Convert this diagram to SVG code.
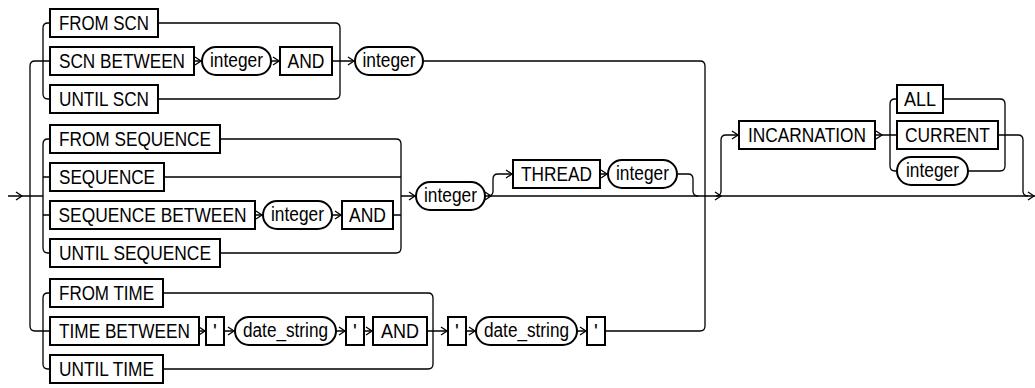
<svg xmlns="http://www.w3.org/2000/svg" xmlns:xlink="http://www.w3.org/1999/xlink" width="1035" height="388" viewBox="0 0 1035 388">
<style>
.b{fill:#fff;stroke:#000;stroke-width:2}
.c{fill:none;stroke:#000;stroke-width:1.3}
.t{font-family:"Liberation Sans",Arial,Helvetica,sans-serif;font-size:20px;fill:#000;text-anchor:middle}
</style>
<defs>
<path id="ah" d="M-6,-4 L0,0 L-6,4" fill="none" stroke="#000" stroke-width="1.3"/>
</defs>
<rect width="1035" height="388" fill="#fff"/>
<g id="connectors" class="c">
<path d="M8,196 H43"/>
<path d="M50,61 H35 Q30,61 30,66 V326 Q30,331 35,331 H50"/>
<path d="M50,23 H48 Q43,23 43,28 V94 Q43,99 48,99 H50"/>
<path d="M50,139 H48 Q43,139 43,144 V248 Q43,253 48,253 H50 M43,177 H50 M43,215 H50"/>
<path d="M50,293 H48 Q43,293 43,298 V364 Q43,369 48,369 H50"/>
<path d="M158,23 H335 Q340,23 340,28 V94 Q340,99 335,99 H158"/>
<path d="M194,61 H202 M271,61 H280 M332,61 H355 M423,61 H700 Q705,61 705,66 V326 Q705,331 700,331 H605"/>
<path d="M220,139 H396 Q401,139 401,144 V248 Q401,253 396,253 H220 M164,177 H401 M255,215 H263 M332,215 H342 M393,215 H401 M401,196 H416"/>
<path d="M485,196 H1035"/>
<path d="M488,196 Q493,196 493,191 V179 Q493,174 498,174 H513 M600,174 H608 M677,174 H688 Q693,174 693,179 V191 Q693,196 698,196"/>
<path d="M716,196 Q721,196 721,191 V140 Q721,135 726,135 H739 M875,135 H897"/>
<path d="M897,99 H895 Q890,99 890,104 V166 Q890,171 895,171 H897"/>
<path d="M943,99 H1000 Q1005,99 1005,104 V166 Q1005,171 1000,171 H968 M998,135 H1018 Q1023,135 1023,140 V191 Q1023,196 1028,196"/>
<path d="M199,331 H206 M224,331 H235 M336,331 H346 M364,331 H373 M427,331 H448 M466,331 H476 M577,331 H587"/>
<path d="M163,293 H428 Q433,293 433,298 V364 Q433,369 428,369 H163"/>
<use xlink:href="#ah" x="22" y="196"/>
<use xlink:href="#ah" x="201" y="61"/>
<use xlink:href="#ah" x="279" y="61"/>
<use xlink:href="#ah" x="354" y="61"/>
<use xlink:href="#ah" x="262" y="215"/>
<use xlink:href="#ah" x="341" y="215"/>
<use xlink:href="#ah" x="415" y="196"/>
<use xlink:href="#ah" x="491" y="196"/>
<use xlink:href="#ah" x="512" y="174"/>
<use xlink:href="#ah" x="607" y="174"/>
<use xlink:href="#ah" x="721" y="196"/>
<use xlink:href="#ah" x="738" y="135"/>
<use xlink:href="#ah" x="882" y="135"/>
<use xlink:href="#ah" x="1034" y="196"/>
<use xlink:href="#ah" x="205" y="331"/>
<use xlink:href="#ah" x="234" y="331"/>
<use xlink:href="#ah" x="345" y="331"/>
<use xlink:href="#ah" x="372" y="331"/>
<use xlink:href="#ah" x="447" y="331"/>
<use xlink:href="#ah" x="475" y="331"/>
<use xlink:href="#ah" x="586" y="331"/>
</g>
<g id="from_scn"><rect class="b" x="50" y="9" width="108" height="28"/><text class="t" x="104" y="30" textLength="90" lengthAdjust="spacingAndGlyphs">FROM SCN</text></g>
<g id="scn_between"><rect class="b" x="50" y="47" width="144" height="28"/><text class="t" x="122" y="68" textLength="126" lengthAdjust="spacingAndGlyphs">SCN BETWEEN</text></g>
<g id="scn_int1"><rect class="b" x="202" y="47" width="69" height="28" rx="14"/><text class="t" x="236.5" y="67" textLength="53" lengthAdjust="spacingAndGlyphs">integer</text></g>
<g id="scn_and"><rect class="b" x="280" y="47" width="52" height="28"/><text class="t" x="306" y="68" textLength="37" lengthAdjust="spacingAndGlyphs">AND</text></g>
<g id="scn_int2"><rect class="b" x="355" y="47" width="68" height="28" rx="14"/><text class="t" x="389" y="67" textLength="53" lengthAdjust="spacingAndGlyphs">integer</text></g>
<g id="until_scn"><rect class="b" x="50" y="85" width="108" height="28"/><text class="t" x="104" y="106" textLength="90" lengthAdjust="spacingAndGlyphs">UNTIL SCN</text></g>
<g id="from_sequence"><rect class="b" x="50" y="125" width="170" height="28"/><text class="t" x="135" y="146" textLength="152" lengthAdjust="spacingAndGlyphs">FROM SEQUENCE</text></g>
<g id="sequence"><rect class="b" x="50" y="163" width="114" height="28"/><text class="t" x="107" y="184" textLength="96" lengthAdjust="spacingAndGlyphs">SEQUENCE</text></g>
<g id="sequence_between"><rect class="b" x="50" y="201" width="205" height="28"/><text class="t" x="152.5" y="222" textLength="188" lengthAdjust="spacingAndGlyphs">SEQUENCE BETWEEN</text></g>
<g id="seq_int"><rect class="b" x="263" y="201" width="69" height="28" rx="14"/><text class="t" x="297.5" y="221" textLength="53" lengthAdjust="spacingAndGlyphs">integer</text></g>
<g id="seq_and"><rect class="b" x="342" y="201" width="51" height="28"/><text class="t" x="367.5" y="222" textLength="37" lengthAdjust="spacingAndGlyphs">AND</text></g>
<g id="until_sequence"><rect class="b" x="50" y="239" width="170" height="28"/><text class="t" x="135" y="260" textLength="152" lengthAdjust="spacingAndGlyphs">UNTIL SEQUENCE</text></g>
<g id="seq_int2"><rect class="b" x="416" y="182" width="69" height="28" rx="14"/><text class="t" x="450.5" y="202" textLength="53" lengthAdjust="spacingAndGlyphs">integer</text></g>
<g id="thread"><rect class="b" x="513" y="160" width="87" height="28"/><text class="t" x="556.5" y="181" textLength="71" lengthAdjust="spacingAndGlyphs">THREAD</text></g>
<g id="thread_int"><rect class="b" x="608" y="160" width="69" height="28" rx="14"/><text class="t" x="642.5" y="180" textLength="53" lengthAdjust="spacingAndGlyphs">integer</text></g>
<g id="incarnation"><rect class="b" x="739" y="121" width="136" height="28"/><text class="t" x="807" y="142" textLength="118" lengthAdjust="spacingAndGlyphs">INCARNATION</text></g>
<g id="all"><rect class="b" x="897" y="85" width="46" height="28"/><text class="t" x="920" y="106" textLength="32" lengthAdjust="spacingAndGlyphs">ALL</text></g>
<g id="current"><rect class="b" x="897" y="121" width="101" height="28"/><text class="t" x="947.5" y="142" textLength="85" lengthAdjust="spacingAndGlyphs">CURRENT</text></g>
<g id="inc_int"><rect class="b" x="897" y="157" width="71" height="28" rx="14"/><text class="t" x="932.5" y="177" textLength="53" lengthAdjust="spacingAndGlyphs">integer</text></g>
<g id="from_time"><rect class="b" x="50" y="279" width="113" height="28"/><text class="t" x="106.5" y="300" textLength="95" lengthAdjust="spacingAndGlyphs">FROM TIME</text></g>
<g id="time_between"><rect class="b" x="50" y="317" width="149" height="28"/><text class="t" x="124.5" y="338" textLength="131" lengthAdjust="spacingAndGlyphs">TIME BETWEEN</text></g>
<g id="q1"><rect class="b" x="206" y="317" width="18" height="28"/><text class="t" x="215" y="338">'</text></g>
<g id="date1"><rect class="b" x="235" y="317" width="101" height="28" rx="14"/><text class="t" x="285.5" y="337" textLength="85" lengthAdjust="spacingAndGlyphs">date_string</text></g>
<g id="q2"><rect class="b" x="346" y="317" width="18" height="28"/><text class="t" x="355" y="338">'</text></g>
<g id="time_and"><rect class="b" x="373" y="317" width="54" height="28"/><text class="t" x="400" y="338" textLength="38" lengthAdjust="spacingAndGlyphs">AND</text></g>
<g id="q3"><rect class="b" x="448" y="317" width="18" height="28"/><text class="t" x="457" y="338">'</text></g>
<g id="date2"><rect class="b" x="476" y="317" width="101" height="28" rx="14"/><text class="t" x="526.5" y="337" textLength="85" lengthAdjust="spacingAndGlyphs">date_string</text></g>
<g id="q4"><rect class="b" x="587" y="317" width="18" height="28"/><text class="t" x="596" y="338">'</text></g>
<g id="until_time"><rect class="b" x="50" y="355" width="113" height="28"/><text class="t" x="106.5" y="376" textLength="95" lengthAdjust="spacingAndGlyphs">UNTIL TIME</text></g>
</svg>
